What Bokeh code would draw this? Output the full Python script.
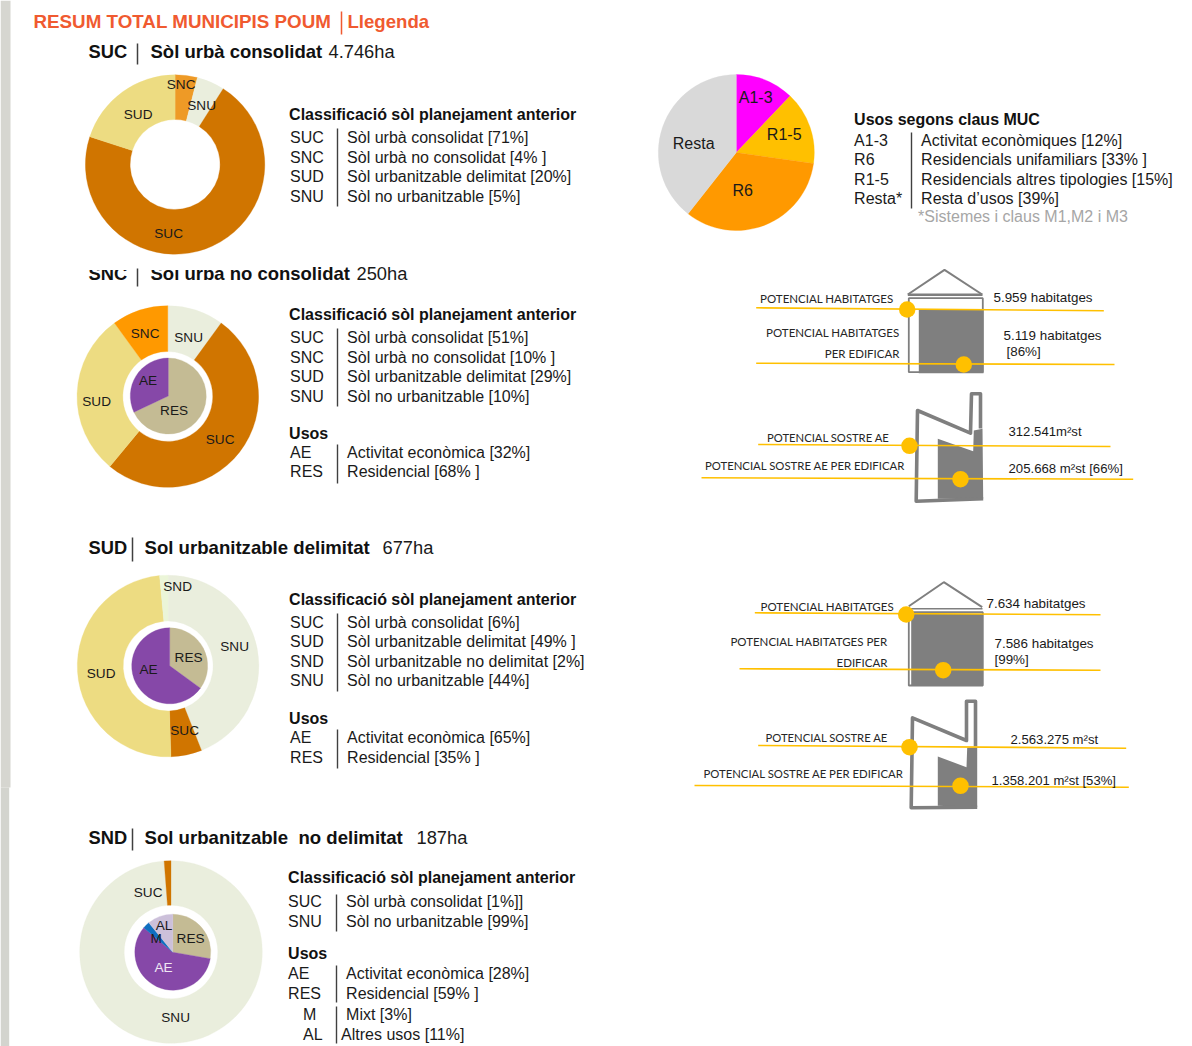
import math
from bokeh.plotting import figure
from bokeh.models import Range1d
from bokeh.core.properties import value
from bokeh.embed import file_html
from bokeh.resources import INLINE

# ---- data -------------------------------------------------------------
C = dict(SUC="#d07500", SNC="#ff9900", SNC1="#ee9a26", SUD="#eddc82", SNU="#eaeedd", SND="#ebf5d8",
         AE="#8648a8", RES="#c4bb94", M="#0f6fc0", AL="#ccc0da",
         A13="#ff00ff", R15="#ffc000", R6="#ff9900", RESTA="#d9d9d9")

suc_keys = ["SNC1", "SNU", "SUC", "SUD"]
suc_vals = [4, 5, 71, 20]

snc_keys = ["SNU", "SUC", "SUD", "SNC"]
snc_vals = [10, 51, 29, 10]
snc_use_keys = ["RES", "AE"]
snc_use_vals = [68, 32]

sud_keys = ["SNU", "SUC", "SUD", "SND"]
sud_vals = [44, 5.5, 49, 1.5]
sud_use_keys = ["RES", "AE"]
sud_use_vals = [35, 65]

snd_keys = ["SNU", "SUC"]
snd_vals = [98.8, 1.2]
snd_use_keys = ["RES", "AE", "M", "AL"]
snd_use_vals = [28, 59, 3, 11]

muc_keys = ["A13", "R15", "R6", "RESTA"]
muc_vals = [12, 15, 33, 39]

class_title = "Classificació sòl planejament anterior"
suc_rows = [("SUC", "Sòl urbà consolidat [71%]"), ("SNC", "Sòl urbà no consolidat [4% ]"),
            ("SUD", "Sòl urbanitzable delimitat [20%]"), ("SNU", "Sòl no urbanitzable [5%]")]
snc_rows = [("SUC", "Sòl urbà consolidat [51%]"), ("SNC", "Sòl urbà no consolidat [10% ]"),
            ("SUD", "Sòl urbanitzable delimitat [29%]"), ("SNU", "Sòl no urbanitzable [10%]")]
snc_use = [("AE", "Activitat econòmica [32%]"), ("RES", "Residencial [68% ]")]
sud_rows = [("SUC", "Sòl urbà consolidat [6%]"), ("SUD", "Sòl urbanitzable delimitat [49% ]"),
            ("SND", "Sòl urbanitzable no delimitat [2%]"), ("SNU", "Sòl no urbanitzable [44%]")]
sud_use = [("AE", "Activitat econòmica [65%]"), ("RES", "Residencial [35% ]")]
snd_rows = [("SUC", "Sòl urbà consolidat [1%]]"), ("SNU", "Sòl no urbanitzable [99%]")]
snd_use = [("AE", "Activitat econòmica [28%]"), ("RES", "Residencial [59% ]")]
muc_rows = [("A1-3", "Activitat econòmiques [12%]"), ("R6", "Residencials unifamiliars [33% ]"),
            ("R1-5", "Residencials altres tipologies [15%]"), ("Resta*", "Resta d’usos [39%]")]

# ---- canvas: data units are page pixels --------------------------------
p = figure(width=1192, height=1046, output_backend="svg", toolbar_location=None,
           x_range=Range1d(0, 1192), y_range=Range1d(1046, 0), min_border=0,
           outline_line_color=None, background_fill_color="white", border_fill_color="white")
p.axis.visible = False
p.xaxis.visible = False
p.yaxis.visible = False
p.grid.visible = False
p.styles = {"position": "absolute", "left": "0px", "top": "0px"}

ARIAL = "Liberation Sans"
CAL = "Lato"
GRAY = "#7f7f7f"
YEL = "#ffc000"
INK = "#1a1a1a"


def T(x, y, s, size=16.0, bold=False, color=INK, align="left", font=ARIAL, base="alphabetic"):
    if base == "alphabetic":
        # y is given as a baseline position; draw about the text's middle
        y, base = y - 0.36 * size, "middle"
    if size == 16.0:
        x -= 0.4
    p.text([x], [y], text=[s], text_font=value(font), text_font_size=value(f"{size}px"),
           text_font_style="bold" if bold else "normal", text_color=color,
           text_align=align, text_baseline=base)


def ring(cx, cy, r0, r1, keys, vals):
    total = sum(vals)
    cum = 0
    for k, v in zip(keys, vals):
        # clockwise from 12 o'clock
        a0 = math.pi / 2 - 2 * math.pi * cum / total
        a1 = math.pi / 2 - 2 * math.pi * (cum + v) / total
        cum += v
        if r0 > 0:
            p.annular_wedge([cx], [cy], inner_radius=r0, outer_radius=r1, start_angle=a0, end_angle=a1,
                            direction="clock", fill_color=C[k], line_color=C[k], line_width=0.3)
        else:
            p.wedge([cx], [cy], radius=r1, start_angle=a0, end_angle=a1,
                    direction="clock", fill_color=C[k], line_color=C[k], line_width=0.3)


def vbar(x, y0, y1, color="#404040", w=1.4):
    p.line([x, x], [y0, y1], line_color=color, line_width=w)


def rows(items, x_code, x_bar, x_text, ys):
    for (c, t), y in zip(items, ys):
        T(x_code, y, c)
        T(x_text, y, t)


def centered(items, size=13.6):
    for x, y, s, *col in items:
        T(x - 0.4, y - 0.5, s, size=size, align="center", base="middle", color=col[0] if col else INK)


def yline(x0, y0, x1, y1):
    p.line([x0, x1], [y0, y1], line_color=YEL, line_width=1.6)


def dot(x, y):
    p.scatter([x], [y], size=16.5, marker="circle", fill_color=YEL, line_color=None)


# left stripe
p.quad(left=[0], right=[10], top=[0], bottom=[787], fill_color="#d6d6d0", line_color=None)
p.quad(left=[0], right=[8.7], top=[787], bottom=[1046], fill_color="#d3d4ce", line_color=None)

# title
T(33, 28, "RESUM TOTAL MUNICIPIS POUM", size=18.8, bold=True, color="#f05a30")
vbar(341, 11, 34, color="#f05a30", w=1.5)
T(347, 28, "Llegenda", size=18.6, bold=True, color="#f05a30")

# section headers
T(88, 58, "SUC", size=18.3, bold=True, color="#111111")
vbar(137, 43, 64, w=1.5)
T(150, 58, "Sòl urbà consolidat", size=18.5, bold=True, color="#111111")
T(328, 58, "4.746ha", size=18.3)

T(88, 280, "SNC", size=18.3, bold=True, color="#111111")
T(150, 280, "Sòl urbà no consolidat", size=18.5, bold=True, color="#111111")
T(356, 280, "250ha", size=18.3)
p.quad(left=[80], right=[262], top=[250], bottom=[269.5], fill_color="white", line_color=None)
vbar(137, 268, 286, w=1.5)

T(88, 554, "SUD", size=18.3, bold=True, color="#111111")
vbar(132, 537, 561, w=1.5)
T(144, 554, "Sol urbanitzable delimitat", size=18.6, bold=True, color="#111111")
T(382, 554, "677ha", size=18.3)

T(88, 844, "SND", size=18.3, bold=True, color="#111111")
vbar(132, 828, 850, w=1.5)
T(144, 844, "Sol urbanitzable\u00a0\u00a0no delimitat", size=18.6, bold=True, color="#111111")
T(416, 844, "187ha", size=18.3)

# donuts
ring(174.6, 164, 45, 89.7, suc_keys, suc_vals)
centered([(181, 84, "SNC"), (201.5, 105, "SNU"), (138, 114.5, "SUD"), (168.5, 233, "SUC")])

ring(167.3, 396, 45, 90.8, snc_keys, snc_vals)
ring(167.8, 395.5, 0, 38, snc_use_keys, snc_use_vals)
centered([(145, 333.5, "SNC"), (188.5, 337, "SNU"), (96.5, 401.5, "SUD"), (220, 439.5, "SUC"),
          (148, 380.5, "AE"), (174, 410.5, "RES")])

ring(167.6, 665.5, 45, 90.8, sud_keys, sud_vals)
ring(169.2, 665.3, 0, 38, sud_use_keys, sud_use_vals)
centered([(177.5, 586.5, "SND"), (234.5, 646.5, "SNU"), (101, 673.5, "SUD"), (184.5, 730.5, "SUC"),
          (148.5, 669.5, "AE"), (188.5, 657.5, "RES")])

ring(170.5, 951.5, 46.8, 91.3, snd_keys, snd_vals)
ring(172.3, 951.7, 0, 38, snd_use_keys, snd_use_vals)
centered([(148, 892.5, "SUC"), (175.5, 1017.5, "SNU"), (163.5, 967.5, "AE", "#f0e8f4"), (190.5, 938.5, "RES"),
          (164, 925.5, "AL"), (156, 938.5, "M")])

ring(735.8, 152, 0, 78, muc_keys, muc_vals)
centered([(756, 97.5, "A1-3"), (784.5, 134.5, "R1-5"), (743, 190.5, "R6"), (694, 143.5, "Resta")], size=16)

# legend blocks
T(289, 120, class_title, bold=True, color="#111111")
rows(suc_rows, 290, 337, 347, [143, 162.5, 182, 201.5])
vbar(337, 128, 206)

T(289, 320, class_title, bold=True, color="#111111")
rows(snc_rows, 290, 337, 347, [343, 362.5, 382, 401.5])
vbar(337, 328, 406)
T(289, 439, "Usos", bold=True, color="#111111")
rows(snc_use, 290, 337, 347, [458, 477])
vbar(337, 444, 483)

T(289, 605, class_title, bold=True, color="#111111")
rows(sud_rows, 290, 337, 347, [628, 647, 667, 686])
vbar(337, 613, 691)
T(289, 724, "Usos", bold=True, color="#111111")
rows(sud_use, 290, 337, 347, [743, 763])
vbar(337, 729, 768)

T(288, 883, class_title, bold=True, color="#111111")
rows(snd_rows, 288, 336, 346, [907, 927])
vbar(336, 894, 931)
T(288, 959, "Usos", bold=True, color="#111111")
rows(snd_use, 288, 336, 346, [979, 999])
vbar(336, 965, 1002)
T(303, 1020, "M")
T(303, 1040, "AL")
T(346, 1020, "Mixt [3%]")
T(341, 1040, "Altres usos [11%]")
vbar(336, 1006, 1043)

T(854, 125, "Usos segons claus MUC", bold=True, color="#111111")
rows(muc_rows, 854, 911, 921, [146, 165, 185, 204])
vbar(911, 132, 208)
T(918, 222, "*Sistemes i claus M1,M2 i M3", color="#a6a6a6")

# house 1
p.line([907.3, 944, 981.7], [294, 269.3, 294], line_color=GRAY, line_width=2)
p.line([907.3, 982], [294.3, 294.3], line_color=GRAY, line_width=2.5)
p.quad(left=[908.3], right=[982.3], top=[297.7], bottom=[371.7], fill_color="white", line_color=GRAY, line_width=1.8)
p.quad(left=[918.3], right=[983], top=[309.3], bottom=[372.7], fill_color=GRAY, line_color=None)
yline(755.7, 307.3, 1103.3, 310.3)
yline(755.7, 362.7, 1114, 364)
dot(906.7, 309)
dot(963.3, 364)
T(893, 302, "POTENCIAL HABITATGES", size=11.5, color="#262626", align="right", font=CAL)
T(899, 336, "POTENCIAL HABITATGES", size=11.5, color="#262626", align="right", font=CAL)
T(899, 357, "PER EDIFICAR", size=11.5, color="#262626", align="right", font=CAL)
T(993, 302, "5.959 habitatges", size=13.4)
T(1003, 340, "5.119 habitatges", size=13.4)
T(1006, 356, "[86%]", size=13.4)

# factory 1
p.patch([937.3, 972.7, 973.3, 982, 982.7, 937.3], [438.3, 450.7, 430, 428.3, 498.3, 498.3], fill_color=GRAY, line_color=None)
p.line([982.7, 915.7, 917, 970, 971, 980, 980], [498.3, 500.7, 410, 432.7, 393.3, 393.3, 428], line_color=GRAY, line_width=3.6, line_join="round")
yline(757.7, 444, 1110, 446)
yline(701, 477.3, 1132.7, 478.7)
dot(909, 445.3)
dot(960, 478.7)
T(889, 441, "POTENCIAL SOSTRE AE", size=11.25, color="#262626", align="right", font=CAL)
T(904.5, 469.5, "POTENCIAL SOSTRE AE PER EDIFICAR", size=11.35, color="#262626", align="right", font=CAL)
T(1008, 436, "312.541m²st", size=13.15)
T(1008, 473, "205.668 m²st [66%]", size=13.2)

# house 2
p.line([908.3, 943.3, 981.7], [605.7, 581.7, 606.7], line_color=GRAY, line_width=2)
p.line([910, 982], [608.3, 608.3], line_color=GRAY, line_width=1.5)
p.quad(left=[908.3], right=[982.3], top=[611.7], bottom=[685], fill_color="white", line_color=GRAY, line_width=1.8)
p.quad(left=[910.7], right=[982.3], top=[613.3], bottom=[685.5], fill_color=GRAY, line_color=None)
yline(754.3, 612.3, 1100, 614.3)
yline(739, 668.3, 1100, 669.7)
dot(905.7, 614)
dot(942.7, 669.7)
T(893.5, 610, "POTENCIAL HABITATGES", size=11.5, color="#262626", align="right", font=CAL)
T(887, 645, "POTENCIAL HABITATGES PER", size=11.5, color="#262626", align="right", font=CAL)
T(887, 666, "EDIFICAR", size=11.5, color="#262626", align="right", font=CAL)
T(986, 608, "7.634 habitatges", size=13.4)
T(994, 648, "7.586 habitatges", size=13.4)
T(994, 664, "[99%]", size=13.4)

# factory 2
p.patch([937.3, 966, 966.7, 976.7, 976.7, 937.3], [756, 766.7, 747.3, 746.7, 806.7, 805.3], fill_color=GRAY, line_color=None)
p.line([976.7, 910.7, 912, 966, 966, 975, 975], [806.7, 807.3, 717.3, 740, 700.7, 700.7, 746], line_color=GRAY, line_width=3.6, line_join="round")
yline(757.7, 745, 1125.7, 747.7)
yline(694, 785, 1128.3, 786.7)
dot(909, 746.7)
dot(960, 785.3)
T(887.5, 741, "POTENCIAL SOSTRE AE", size=11.25, color="#262626", align="right", font=CAL)
T(903, 777, "POTENCIAL SOSTRE AE PER EDIFICAR", size=11.35, color="#262626", align="right", font=CAL)
T(1010, 744, "2.563.275 m²st", size=13.15)
T(991, 785, "1.358.201 m²st [53%]", size=13.1)

open("out.html", "w").write(file_html(p, INLINE))
